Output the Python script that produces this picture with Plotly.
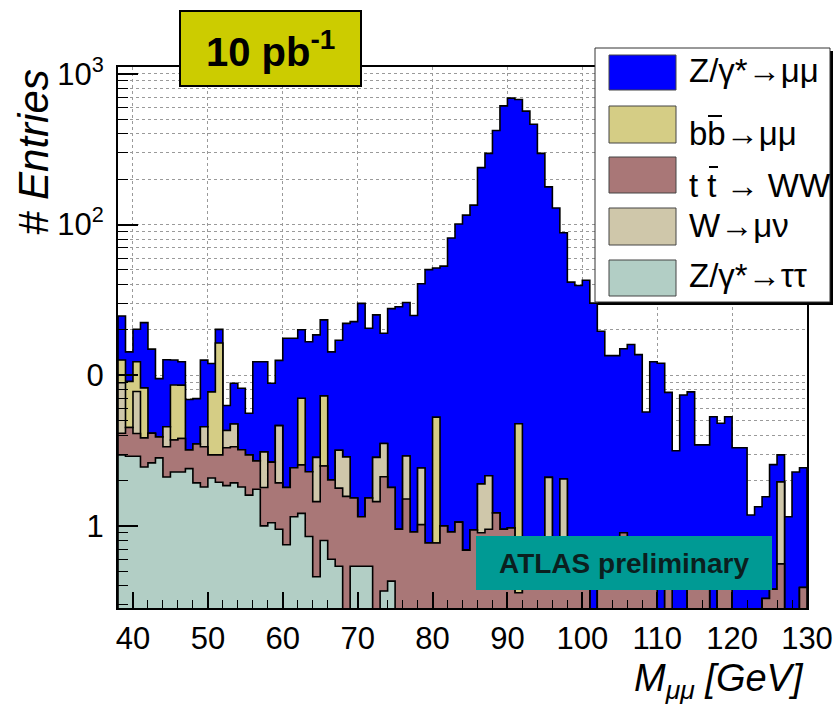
import numpy as np
import plotly.graph_objects as go

# Dimuon invariant mass, 1 GeV bins from 38 to 130 GeV (92 bins)
mass_low, mass_high, bin_width = 38, 130, 1.0

# Entries per bin for each sample (stacked bottom -> top: ztautau, ttbar, wmunu, bbmumu, zmumu)
zmumu = [
    12.1, 5.2, 7.9, 14.1, 10.78, 5.6, 8.13, 4.0, 3.7, 3.71,
    3.5, 8.04, 4.2, 3.8, 2.0, 4.1, 5.0, 2.64, 9.6, 9.2,
    6.2, 7.93, 15.8, 15.17, 13.0, 14.41, 15.69, 16.0, 12.28, 13.91,
    19.22, 21.17, 28.85, 18.97, 22.29, 15.46, 25.9, 27.55, 27.51, 23.99,
    38.1, 49.43, 46.25, 52.0, 80.6, 99.9, 114.9, 133.6, 237.1, 294.9,
    419.8, 613.0, 690.0, 671.2, 565.4, 462.4, 296.4, 175.9, 128.4, 86.25,
    40.8, 38.85, 42.2, 30.1, 19.1, 12.9, 13.0, 14.1, 15.45, 13.2,
    5.25, 11.9, 12.0, 7.25, 3.15, 7.4, 7.3, 2.95, 3.05, 5.3,
    4.35, 4.9, 3.3, 3.3, 1.18, 1.34, 1.23, 2.17, 1.0, 1.15,
    2.28, 2.04,
]
bbmumu = [
    3.7, 4.6, 4.5, 4.4, 0, 0, 0, 4.9, 4.8, 0,
    0, 0, 4.8, 13.4, 0, 0, 0, 0, 0, 0,
    0, 0, 0, 0, 4.5, 0, 0, 4.8, 0, 0,
    0, 0, 0, 0, 0, 0, 0, 0, 0, 0,
    0, 0, 4.5, 0, 0, 0, 0, 0, 0, 0,
    0, 0, 0, 4.4, 0, 0, 0, 0, 0, 0,
    0, 0, 0, 0, 0, 0, 0, 0, 0, 0,
    0, 0, 0, 0, 0, 0, 0, 0, 0, 0,
    0, 0, 0, 0, 0, 0, 0, 0, 0, 0,
    0, 0,
]
ttbar = [
    1.16, 1.6, 1.2, 1.38, 1.5, 1.07, 1.24, 1.44, 1.52, 0.79,
    1.57, 1.54, 0.88, 1.01, 1.45, 1.42, 1.39, 1.36, 0.95, 0.8,
    1.6, 0.98, 1.05, 1.28, 1.33, 1.44, 0.99, 1.7, 1.42, 1.24,
    1.57, 0.99, 0.61, 0.99, 1.45, 1.75, 1.37, 0.95, 1.51, 0.91,
    1.02, 0.77, 0.77, 1.0, 0.91, 1.06, 0.69, 0.94, 0.9, 0.95,
    1.22, 0.95, 0.97, 0.36, 0.6, 0.55, 0.6, 0.5, 0.55, 0.5,
    0.7, 0.55, 0.5, 0, 0.5, 0.6, 0.5, 0.9, 0.55, 0.5,
    0.45, 0.4, 0, 0.45, 0, 0, 0.45, 0.5, 0.4, 0,
    0.45, 0.4, 0, 0, 0, 0, 0.33, 0.38, 0.56, 0,
    0, 0.39,
]
wmunu = [
    4.8, 0, 3.7, 0, 0, 0, 1.2, 0, 0, 0,
    0, 1.2, 0, 0, 1.0, 1.4, 0, 0, 0, 1.3,
    0, 2.7, 0, 0, 0, 0, 1.4, 0, 0, 1.4,
    1.3, 0, 0, 0, 1.4, 1.4, 0, 0, 1.4, 0,
    1.4, 0, 0, 0, 0, 0, 0, 0, 1.0, 1.2,
    0, 0, 0, 0, 0, 0, 0, 1.6, 0, 1.55,
    0, 0, 0, 0, 0, 0, 0, 0, 0, 0,
    0, 0, 0, 0, 0, 0, 0, 0, 0, 0,
    0, 0, 0, 0, 0, 0, 0, 0, 1.4, 0,
    0, 0,
]
ztautau = [
    2.96, 2.9, 2.9, 2.46, 2.62, 2.83, 2.11, 2.28, 2.28, 2.4,
    1.93, 1.81, 2.08, 1.95, 1.85, 1.93, 1.81, 1.6, 1.75, 1.0,
    1.05, 0.95, 0.75, 1.15, 1.21, 0.85, 0.46, 0.8, 0.6, 0.54,
    0, 0.54, 0.54, 0.54, 0, 0.37, 0.43, 0, 0, 0,
    0, 0, 0, 0, 0, 0, 0, 0, 0, 0,
    0, 0, 0, 0, 0, 0, 0, 0, 0, 0,
    0, 0, 0, 0, 0, 0, 0, 0, 0, 0,
    0, 0, 0, 0, 0, 0, 0, 0, 0, 0,
    0, 0, 0, 0, 0, 0, 0, 0, 0, 0,
    0, 0,
]

sample_labels = ["Z/γ*→ττ", "t t → WW", "W→μν", "bb→μμ", "Z/γ*→μμ"]
sample_colors = ["#B2CEC5", "#A97777", "#CFC7AA", "#D5CD85", "#0000FF"]
x_ticks = [40, 50, 60, 70, 80, 90, 100, 110, 120, 130]
y_ticks = [1, 10, 100, 1000]
y_ticktext = ["1", "0", "10<sup>2</sup>", "10<sup>3</sup>"]

FONT = "Liberation Sans, Arial, Helvetica, sans-serif"
W, H = 837, 704
ML, MR, MT, MB = 118, 30, 67, 96
PW, PH = W - ML - MR, H - MT - MB


def px(x):
    return (x - ML) / PW


def py(y):
    return (H - MB - y) / PH


edges = np.arange(mass_low, mass_high + bin_width / 2, bin_width)
stack = np.cumsum(np.array([ztautau, ttbar, wmunu, bbmumu, zmumu], dtype=float), axis=0)


def step_outline(vals, floor=1e-2):
    v = np.maximum(vals, floor)
    xs, ys = [edges[0]], [floor]
    for i, val in enumerate(v):
        xs += [edges[i], edges[i + 1]]
        ys += [val, val]
    xs.append(edges[-1])
    ys.append(floor)
    return xs, ys


fig = go.Figure()
# Draw the cumulative histograms from the tallest down so each layer sits on the next
for level in range(len(stack) - 1, -1, -1):
    xs, ys = step_outline(stack[level])
    fig.add_trace(go.Scatter(
        x=xs, y=ys, mode="lines", fill="toself",
        fillcolor=sample_colors[level],
        line=dict(color="black", width=1.6),
        name=sample_labels[level], showlegend=False, hoverinfo="skip",
    ))

minor_y = [k * 10.0 ** e for e in (-1, 0, 1, 2) for k in range(2, 10)]
minor_y = [v for v in minor_y if 0.28 < v < 1100]

fig.update_layout(
    width=W, height=H,
    margin=dict(l=ML, r=MR, t=MT, b=MB),
    paper_bgcolor="white", plot_bgcolor="white",
    font=dict(family=FONT, color="black"),
    xaxis=dict(
        range=[mass_low, mass_high], tickmode="array", tickvals=x_ticks,
        automargin=False,
        ticks="inside", ticklen=16, tickwidth=1.5, tickcolor="black",
        showline=True, linewidth=2, linecolor="black", mirror=True,
        showgrid=True, gridcolor="#9a9a9a", griddash="dot", gridwidth=1,
        zeroline=False, tickfont=dict(size=31, family=FONT),
        ticklabelstandoff=2,
        minor=dict(tickmode="linear", tick0=40, dtick=2, ticks="inside",
                   ticklen=8, tickwidth=1.2, tickcolor="black", showgrid=False),
    ),
    yaxis=dict(
        type="log", range=[-0.545, 3.046],
        automargin=False,
        tickmode="array", tickvals=y_ticks, ticktext=y_ticktext,
        ticks="inside", ticklen=20, tickwidth=1.5, tickcolor="black",
        showline=True, linewidth=2, linecolor="black", mirror=True,
        showgrid=True, gridcolor="#9a9a9a", griddash="dot", gridwidth=1,
        zeroline=False, tickfont=dict(size=31, family=FONT),
        ticklabelstandoff=6,
        minor=dict(tickmode="array", tickvals=minor_y, ticks="inside",
                   ticklen=10, tickwidth=1.2, tickcolor="black",
                   showgrid=True, gridcolor="#9a9a9a", griddash="dot", gridwidth=1),
    ),
)

shapes = []
annotations = []

# Luminosity label box
shapes.append(dict(type="rect", xref="paper", yref="paper",
                   x0=px(180), x1=px(361), y0=py(86), y1=py(11),
                   fillcolor="#CCCC00", line=dict(color="black", width=2)))
annotations.append(dict(xref="paper", yref="paper", x=px(270), y=py(49),
                        xanchor="center", yanchor="middle", showarrow=False,
                        text="<b>10 pb<sup>-1</sup></b>",
                        font=dict(size=40, family=FONT, color="black")))

# Legend panel with drop shadow
shapes.append(dict(type="rect", xref="paper", yref="paper",
                   x0=px(598), x1=px(833), y0=py(305), y1=py(51),
                   fillcolor="black", line=dict(width=0)))
shapes.append(dict(type="rect", xref="paper", yref="paper",
                   x0=px(595), x1=px(830), y0=py(302), y1=py(48),
                   fillcolor="white", line=dict(color="#333333", width=1)))
rows = [(55, 90, 71), (106, 143, 133), (157, 193, 185), (208, 245, 226), (260, 296, 275)]
for (top, bot, text_mid), idx in zip(rows, [4, 3, 1, 2, 0]):
    shapes.append(dict(type="rect", xref="paper", yref="paper",
                       x0=px(609), x1=px(676), y0=py(bot), y1=py(top),
                       fillcolor=sample_colors[idx], line=dict(color="#444444", width=1)))
    annotations.append(dict(xref="paper", yref="paper", x=px(687), y=py(text_mid),
                            xanchor="left", yanchor="middle", showarrow=False,
                            text=sample_labels[idx],
                            font=dict(size=33, family=FONT, color="black")))
# anti-quark bars over b and t
shapes.append(dict(type="line", xref="paper", yref="paper",
                   x0=px(708), x1=px(722), y0=py(116), y1=py(116),
                   line=dict(color="black", width=2)))
shapes.append(dict(type="line", xref="paper", yref="paper",
                   x0=px(709), x1=px(718), y0=py(167), y1=py(167),
                   line=dict(color="black", width=2)))

# Experiment label
shapes.append(dict(type="rect", xref="paper", yref="paper",
                   x0=px(476), x1=px(772), y0=py(590), y1=py(536),
                   fillcolor="#009A94", line=dict(width=0)))
annotations.append(dict(xref="paper", yref="paper", x=px(624), y=py(563),
                        xanchor="center", yanchor="middle", showarrow=False,
                        text="<b>ATLAS preliminary</b>",
                        font=dict(size=28, family=FONT, color="#0b1f1f")))

# Axis titles
annotations.append(dict(xref="paper", yref="paper", x=px(806), y=py(681),
                        xanchor="right", yanchor="middle", showarrow=False,
                        text="<i>M<sub>μμ</sub> [GeV]</i>",
                        font=dict(size=38, family=FONT, color="black")))
annotations.append(dict(xref="paper", yref="paper", x=px(33), y=py(152),
                        xanchor="center", yanchor="middle", showarrow=False,
                        textangle=-90, text="<i># Entries</i>",
                        font=dict(size=42, family=FONT, color="black")))

fig.update_layout(shapes=shapes, annotations=annotations)
fig.write_html("out.html")
